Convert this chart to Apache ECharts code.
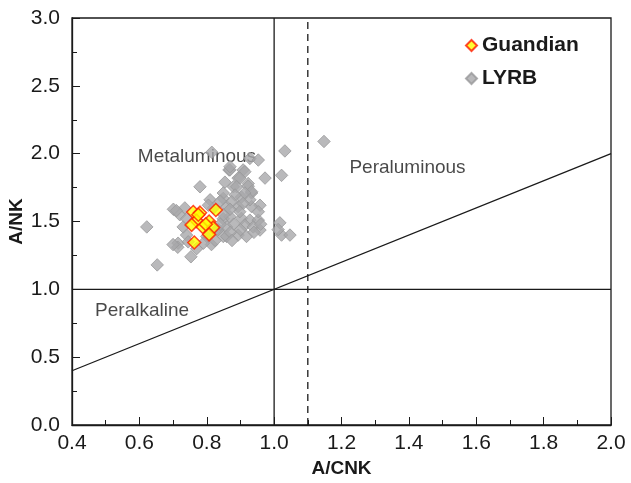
<!DOCTYPE html>
<html>
<head>
<meta charset="utf-8">
<script src="https://cdn.jsdelivr.net/npm/echarts@6/dist/echarts.min.js"></script>
<style>
  html, body { margin: 0; padding: 0; background: #fff; }
  #chart { width: 631px; height: 483px; }
</style>
</head>
<body>
<div id="chart"></div>
<script>
// A/CNK vs A/NK (Shand index) samples
const guandian = [
  [0.760, 1.570], [0.780, 1.565], [0.827, 1.585], [0.770, 1.505],
  [0.755, 1.475], [0.788, 1.460], [0.807, 1.500], [0.819, 1.455],
  [0.807, 1.405], [0.763, 1.345], [0.775, 1.550], [0.797, 1.480]
];

const lyrb = [
  [0.622, 1.46], [0.653, 1.18], [0.753, 1.24], [0.701, 1.59], [0.720, 1.55],
  [0.735, 1.60], [0.715, 1.34], [0.714, 1.31], [0.740, 1.40], [0.780, 1.756],
  [0.810, 1.66], [0.849, 1.67], [0.854, 1.79], [0.866, 1.88], [0.814, 1.33],
  [0.800, 1.39], [0.849, 1.39], [0.834, 1.44], [0.849, 1.52], [0.869, 1.88],
  [0.908, 1.88], [0.928, 1.965], [0.953, 1.953], [0.893, 1.82], [0.973, 1.82],
  [0.879, 1.756], [0.923, 1.78], [0.933, 1.71], [0.958, 1.62], [0.903, 1.68],
  [0.859, 1.61], [0.893, 1.61], [0.933, 1.61], [0.869, 1.535], [0.903, 1.523],
  [0.928, 1.51], [0.953, 1.51], [0.913, 1.474], [0.938, 1.46], [0.958, 1.437],
  [0.859, 1.46], [0.829, 1.44], [0.859, 1.39], [0.893, 1.40], [0.918, 1.39],
  [1.032, 2.02], [1.022, 1.84], [1.017, 1.49], [1.022, 1.40], [1.047, 1.40],
  [1.148, 2.09], [1.012, 1.44], [0.913, 1.867], [0.869, 1.904], [0.898, 1.82],
  [0.889, 1.756], [0.923, 1.76], [0.933, 1.72], [0.913, 1.71], [0.884, 1.695],
  [0.849, 1.71], [0.928, 1.66], [0.908, 1.633], [0.874, 1.646], [0.840, 1.65],
  [0.953, 1.572], [0.898, 1.572], [0.869, 1.59], [0.700, 1.33], [0.730, 1.46],
  [0.745, 1.35], [0.770, 1.30], [0.790, 1.34], [0.825, 1.36], [0.840, 1.48],
  [0.880, 1.48], [0.870, 1.42], [0.900, 1.44], [0.940, 1.42], [0.960, 1.48],
  [0.875, 1.36], [0.850, 1.55], [0.820, 1.60], [0.805, 1.62], [0.710, 1.58],
  [0.740, 1.52], [0.815, 2.01]
];

// Classification boundaries
const lineAcnk1 = [[1.0, 0], [1.0, 3.0]];
const lineAcnk11 = [[1.1, 0], [1.1, 3.0]];
const lineAnk1 = [[0.4, 1.0], [2.0, 1.0]];
const lineDiag = [[0.4, 0.4], [2.0, 2.0]];

// Field labels
const fieldLabels = [
  { name: 'Metaluminous', value: [0.771, 1.975] },
  { name: 'Peraluminous', value: [1.396, 1.894] },
  { name: 'Peralkaline', value: [0.608, 0.840] }
];

const FONT = '"Liberation Sans", Arial, sans-serif';
const INK = '#1a1a1a';
const chart = echarts.init(document.getElementById('chart'));

function boundary(data, dashed) {
  return {
    type: 'line',
    data: data,
    symbol: 'none',
    silent: true,
    z: 1,
    lineStyle: { color: INK, width: 1.3, type: dashed ? [7, 5] : 'solid' }
  };
}

chart.setOption({
  animation: false,
  backgroundColor: '#fff',
  grid: {
    left: 72, right: 20, top: 18, bottom: 58,
    containLabel: false,
    outerBoundsMode: 'none',
    show: true, borderColor: INK, borderWidth: 1.3
  },
  legend: {
    orient: 'vertical',
    left: 460, top: 30,
    itemGap: 12,
    itemWidth: 11, itemHeight: 11,
    data: ['Guandian', 'LYRB'],
    textStyle: { fontFamily: FONT, fontSize: 21, fontWeight: 'bold', color: INK }
  },
  xAxis: {
    type: 'value', min: 0.4, max: 2.0, interval: 0.2,
    name: 'A/CNK', nameLocation: 'middle', nameGap: 34,
    nameMoveOverlap: false,
    nameTextStyle: { fontFamily: FONT, fontSize: 19, fontWeight: 'bold', color: INK },
    axisLine: { show: true, onZero: false, lineStyle: { color: INK, width: 1.3 } },
    axisTick: { show: true, inside: true, length: 8, lineStyle: { color: INK } },
    minorTick: { show: true, splitNumber: 2, length: 5, lineStyle: { color: INK } },
    splitLine: { show: false },
    axisLabel: {
      fontFamily: FONT, fontSize: 21, color: INK, margin: 8,
      formatter: v => v.toFixed(1)
    }
  },
  yAxis: {
    type: 'value', min: 0, max: 3.0, interval: 0.5,
    name: 'A/NK', nameLocation: 'middle', nameGap: 46,
    nameMoveOverlap: false,
    nameTextStyle: { fontFamily: FONT, fontSize: 19, fontWeight: 'bold', color: INK },
    axisLine: { show: true, onZero: false, lineStyle: { color: INK, width: 1.3 } },
    axisTick: { show: true, inside: true, length: 8, lineStyle: { color: INK } },
    minorTick: { show: true, splitNumber: 2, length: 5, lineStyle: { color: INK } },
    splitLine: { show: false },
    axisLabel: {
      fontFamily: FONT, fontSize: 21, color: INK, margin: 12,
      formatter: v => v.toFixed(1)
    }
  },
  series: [
    boundary(lineAcnk1, false),
    boundary(lineAcnk11, true),
    boundary(lineAnk1, false),
    boundary(lineDiag, false),
    {
      type: 'scatter',
      data: fieldLabels,
      symbolSize: 0,
      silent: true,
      z: 2,
      label: {
        show: true, position: 'inside', formatter: p => p.name,
        fontFamily: FONT, fontSize: 19, color: INK,
        textBorderWidth: 0
      }
    },
    {
      name: 'LYRB',
      type: 'scatter',
      data: lyrb,
      symbol: 'diamond',
      symbolSize: 12.5,
      z: 3,
      itemStyle: { color: '#a8a8aa', borderColor: '#98989a', borderWidth: 1 }
    },
    {
      name: 'Guandian',
      type: 'scatter',
      data: guandian,
      symbol: 'diamond',
      symbolSize: 13,
      z: 4,
      itemStyle: { color: '#ffff00', borderColor: '#ff1a00', borderWidth: 1.5 }
    }
  ]
});
</script>
</body>
</html>
